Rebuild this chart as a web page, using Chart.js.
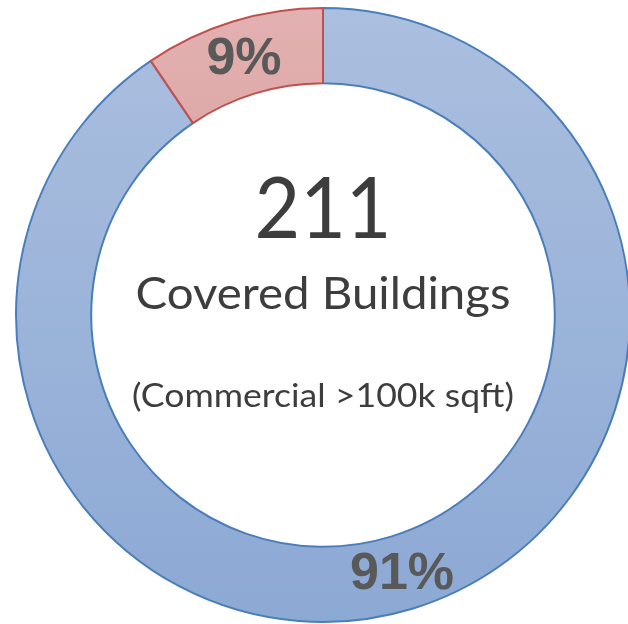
<!DOCTYPE html>
<html lang="en">
<head>
    <meta charset="UTF-8">
    <title>Covered Buildings</title>
    <script src="https://cdn.jsdelivr.net/npm/chart.js"></script>
    <style>
        html, body { margin: 0; padding: 0; background: #fff; overflow: hidden; }
        .chart-box { width: 640px; height: 624px; }
    </style>
</head>
<body>
    <div class="chart-box">
        <canvas id="buildingsChart"></canvas>
    </div>
    <script>
        // Dades
        const labels = ['Other buildings', 'Share shown in red'];
        const values = [191, 20];
        const centerNumber = '211';
        const centerTitle = 'Covered Buildings';
        const centerNote = '(Commercial >100k sqft)';

        const total = values.reduce((a, b) => a + b, 0);

        function gradient(chart, top, bottom) {
            const area = chart.chartArea;
            if (!area) return top;
            const g = chart.ctx.createLinearGradient(0, area.top, 0, area.bottom);
            g.addColorStop(0, top);
            g.addColorStop(1, bottom);
            return g;
        }

        // Percentatges sobre cada tram
        const sliceLabels = {
            id: 'sliceLabels',
            afterDatasetsDraw(chart) {
                const ctx = chart.ctx;
                const meta = chart.getDatasetMeta(0);
                ctx.save();
                ctx.font = 'bold 52px "Liberation Sans", Arial, sans-serif';
                ctx.fillStyle = '#595959';
                ctx.textAlign = 'center';
                ctx.textBaseline = 'middle';
                meta.data.forEach((arc, i) => {
                    const pos = arc.tooltipPosition();
                    const pct = Math.round(values[i] / total * 100) + '%';
                    ctx.fillText(pct, pos.x, pos.y + 2);
                });
                ctx.restore();
            }
        };

        // escriu un text centrat, estirat fins a una amplada
        function stretchedText(ctx, text, x, y, width) {
            const w = ctx.measureText(text).width;
            ctx.save();
            ctx.translate(x, y);
            ctx.scale(width / w, 1);
            ctx.fillText(text, 0, 0);
            ctx.restore();
        }

        // Text del centre
        const centerText = {
            id: 'centerText',
            afterDraw(chart) {
                const ctx = chart.ctx;
                const arc = chart.getDatasetMeta(0).data[0];
                const cx = arc.x;
                const cy = arc.y;
                ctx.save();
                ctx.fillStyle = '#3d3d3d';
                ctx.textAlign = 'center';
                ctx.textBaseline = 'alphabetic';
                ctx.font = '86px Lato, sans-serif';
                stretchedText(ctx, centerNumber, cx, cy - 77, 137);
                ctx.font = '44px Lato, sans-serif';
                stretchedText(ctx, centerTitle, cx, cy - 6, 375);
                ctx.font = '33px Lato, sans-serif';
                stretchedText(ctx, centerNote, cx, cy + 92, 382);
                ctx.restore();
            }
        };

        const ctx = document.getElementById('buildingsChart').getContext('2d');
        new Chart(ctx, {
            type: 'doughnut',
            data: {
                labels: labels,
                datasets: [{
                    data: values,
                    backgroundColor: function(context) {
                        const chart = context.chart;
                        return context.dataIndex === 0
                            ? gradient(chart, '#abbfdf', '#8ca9d4')
                            : gradient(chart, '#e2b1b1', '#d28585');
                    },
                    borderColor: ['#4a7ebb', '#c0504d'],
                    borderWidth: 2
                }]
            },
            options: {
                responsive: true,
                maintainAspectRatio: false,
                animation: false,
                cutout: '75.5%',
                layout: {
                    padding: { left: 15, right: 9, top: 7, bottom: 1 }
                },
                plugins: {
                    legend: { display: false },
                    tooltip: { enabled: false }
                }
            },
            plugins: [sliceLabels, centerText]
        });
    </script>
</body>
</html>
